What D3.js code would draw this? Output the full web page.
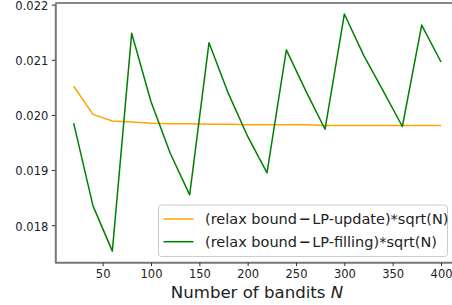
<!DOCTYPE html>
<html>
<head>
<meta charset="utf-8">
<script src="https://cdn.jsdelivr.net/npm/d3@7"></script>
<style>
  body { margin: 0; background: #fff; }
  svg { display: block; font-family: "DejaVu Sans", sans-serif; }
</style>
</head>
<body>
<svg id="chart" width="452" height="305"></svg>
<script>
// bandit counts
var banditN = [20,40,60,80,100,120,140,160,180,200,220,240,260,280,300,320,340,360,380,400];
// (relax bound - LP-update)*sqrt(N)
var lpUpdate = [0.02052,0.02001,0.01989,0.01987,0.01985,0.01984,0.01984,0.01983,0.01983,0.01982,
                0.01982,0.01982,0.01982,0.01981,0.01981,0.01981,0.01981,0.01981,0.01981,0.01981];
// (relax bound - LP-filling)*sqrt(N)
var lpFilling = [0.01985,0.01835,0.01753,0.02148,0.02024,0.01930,0.01855,0.02131,0.02039,0.01961,
                 0.01895,0.02118,0.02044,0.01974,0.02183,0.02108,0.02044,0.01979,0.02163,0.02096];
var xTicks = [50,100,150,200,250,300,350,400];
var yTicks = [0.018,0.019,0.020,0.021,0.022];

var svg = d3.select("#chart");

var x = d3.scaleLinear().domain([1, 419]).range([55.3, 459.4]);
var y = d3.scaleLinear().domain([0.01732, 0.02203]).range([262.7, 3]);

var plotLeft = x(1), plotTop = y(0.02203), plotBottom = y(0.01732);

// top spine
svg.append("line")
  .attr("x1", plotLeft).attr("x2", 452)
  .attr("y1", plotTop).attr("y2", plotTop)
  .attr("stroke", "#111").attr("stroke-width", 1);

// axes
var xAxis = svg.append("g")
  .attr("transform", "translate(0," + plotBottom + ")")
  .call(d3.axisBottom(x).tickValues(xTicks).tickSize(3.5).tickPadding(3.5).tickSizeOuter(0));
var yAxis = svg.append("g")
  .attr("transform", "translate(" + plotLeft + ",0)")
  .call(d3.axisLeft(y).tickValues(yTicks).tickFormat(d3.format(".3f")).tickSize(3.5).tickPadding(3.5).tickSizeOuter(0));

[xAxis, yAxis].forEach(function(a) {
  a.select(".domain").attr("stroke", "#777").attr("stroke-width", 2);
  a.selectAll(".tick line").attr("stroke", "#333").attr("stroke-width", 1);
  a.selectAll(".tick text").attr("fill", "#222")
    .style("font-family", "DejaVu Sans").style("font-size", "11.5px");
});
xAxis.select(".domain").attr("d", "M" + plotLeft + ",0H452");
yAxis.selectAll(".tick text").attr("dy", "0.42em");

// lines
var line = d3.line()
  .x(function(d) { return x(d[0]); })
  .y(function(d) { return y(d[1]); });

svg.append("path")
  .datum(d3.zip(banditN, lpUpdate))
  .attr("fill", "none").attr("stroke", "orange")
  .attr("stroke-width", 1.5).attr("stroke-linejoin", "round")
  .attr("d", line);

svg.append("path")
  .datum(d3.zip(banditN, lpFilling))
  .attr("fill", "none").attr("stroke", "green")
  .attr("stroke-width", 1.5).attr("stroke-linejoin", "round")
  .attr("d", line);

// legend
var legend = svg.append("g").attr("transform", "translate(158.5,205)");
legend.append("rect")
  .attr("width", 289).attr("height", 51.5)
  .attr("rx", 3).attr("fill", "#fff").attr("fill-opacity", 0.8)
  .attr("stroke", "#ccc").attr("stroke-width", 1);

var entries = [
  {name: "LP-update", color: "orange"},
  {name: "LP-filling", color: "green"}
];
entries.forEach(function(e, i) {
  var yy = 14 + i * 22.7;
  legend.append("line")
    .attr("x1", 5).attr("x2", 35).attr("y1", yy).attr("y2", yy)
    .attr("stroke", e.color).attr("stroke-width", 1.5);
  var t = legend.append("text")
    .attr("x", 46.5).attr("y", yy + 5)
    .style("font-size", "14.5px").attr("fill", "#222");
  t.append("tspan").text("(relax bound");
  t.append("tspan").attr("dx", 1.5).style("font-weight", "bold").text("\u2212");
  t.append("tspan").attr("dx", 1.5).text(e.name + ")*sqrt(N)");
});

// x label
var xl = svg.append("text")
  .attr("x", 257).attr("y", 298)
  .attr("text-anchor", "middle")
  .style("font-size", "16.6px").attr("fill", "#222");
xl.append("tspan").text("Number of bandits ");
xl.append("tspan").style("font-style", "italic").text("N");
</script>
</body>
</html>
